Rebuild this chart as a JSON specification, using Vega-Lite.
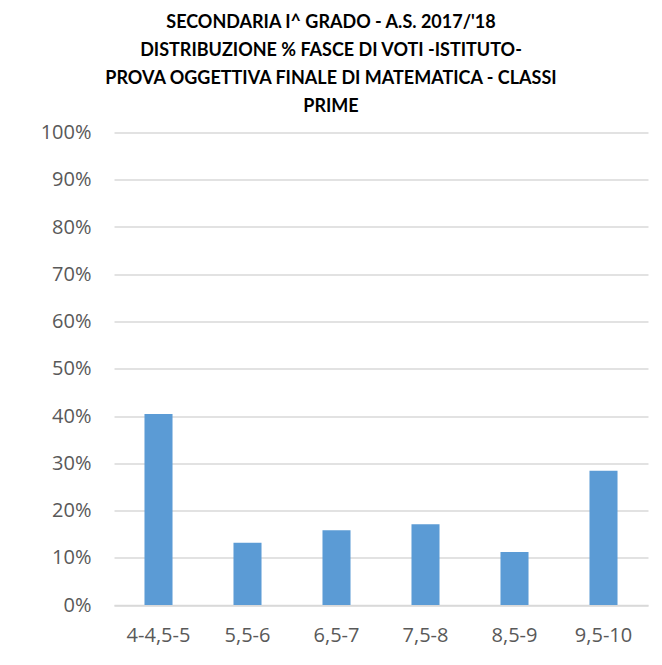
{
  "$schema": "https://vega.github.io/schema/vega-lite/v6.json",
  "width": 534,
  "height": 472.5,
  "autosize": {"type": "none"},
  "padding": {"left": 114, "top": 132.5, "right": 14, "bottom": 60},
  "background": "white",
  "title": {
    "text": ["SECONDARIA I^ GRADO - A.S. 2017/'18", "DISTRIBUZIONE % FASCE DI VOTI -ISTITUTO-", "PROVA OGGETTIVA FINALE DI MATEMATICA - CLASSI", "PRIME"],
    "font": "Lato",
    "fontSize": 18,
    "fontWeight": "bold",
    "color": "#000000",
    "lineHeight": 28,
    "anchor": "middle",
    "frame": "group",
    "dx": -50,
    "offset": 7
  },
  "data": {
    "values": [
      {"fascia": "4-4,5-5", "percentuale": 0.404},
      {"fascia": "5,5-6", "percentuale": 0.132},
      {"fascia": "6,5-7", "percentuale": 0.158},
      {"fascia": "7,5-8", "percentuale": 0.171},
      {"fascia": "8,5-9", "percentuale": 0.112},
      {"fascia": "9,5-10", "percentuale": 0.284}
    ]
  },
  "mark": {"type": "bar", "color": "#5B9BD5"},
  "encoding": {
    "x": {
      "field": "fascia",
      "type": "nominal",
      "sort": null,
      "title": null,
      "scale": {"paddingInner": 0.685, "paddingOuter": 0.3425},
      "axis": {
        "labelAngle": 0,
        "ticks": false,
        "domainColor": "#d9d9d9",
        "domainWidth": 1.5,
        "labelFont": "Open Sans",
        "labelFontSize": 20,
        "labelColor": "#595959",
        "labelPadding": 20
      }
    },
    "y": {
      "field": "percentuale",
      "type": "quantitative",
      "title": null,
      "scale": {"domain": [0, 1]},
      "axis": {
        "format": ".0%",
        "values": [0, 0.1, 0.2, 0.3, 0.4, 0.5, 0.6, 0.7, 0.8, 0.9, 1],
        "ticks": false,
        "domain": false,
        "gridColor": "#d9d9d9",
        "gridWidth": 1.5,
        "labelFont": "Open Sans",
        "labelFontSize": 20,
        "labelColor": "#595959",
        "labelPadding": 23
      }
    }
  },
  "config": {"view": {"stroke": null}}
}
